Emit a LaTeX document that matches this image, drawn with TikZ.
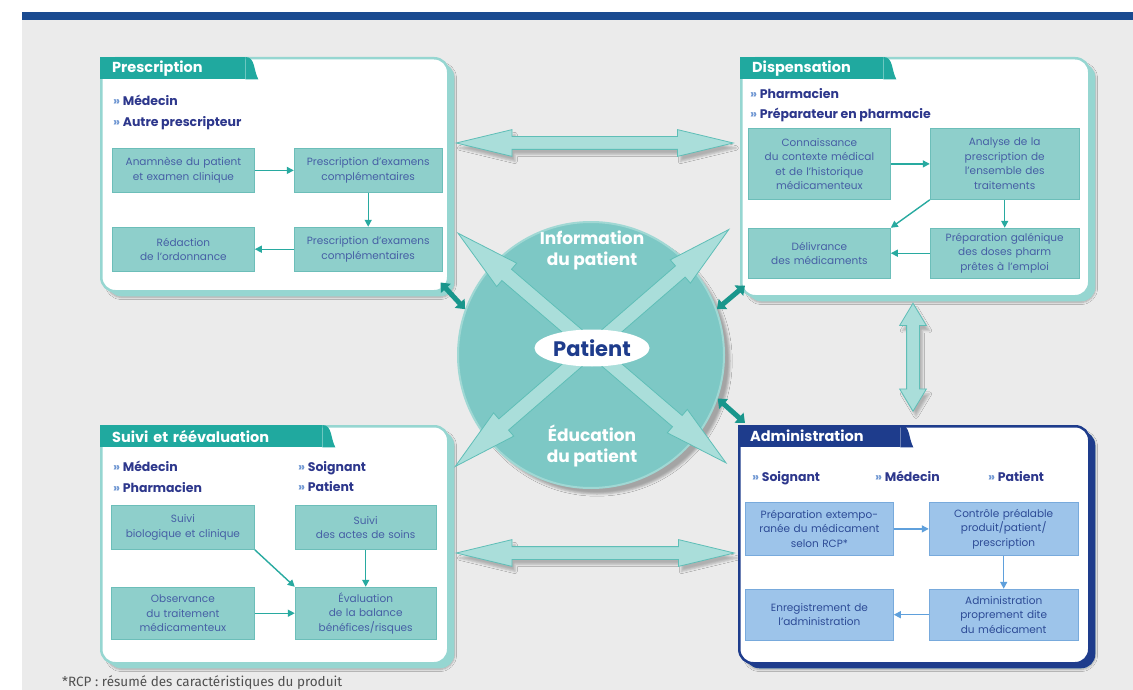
\documentclass[tikz,border=0pt]{standalone}
\usepackage{fontspec}
\setmainfont{Poppins}
\newfontfamily\notefont{Fira Sans}
\usetikzlibrary{shapes.geometric, shapes.arrows, arrows.meta, positioning, calc, shadows.blur}

\definecolor{bandblue}{RGB}{26,74,144}
\definecolor{bggray}{RGB}{235,235,235}
\definecolor{tabteal}{RGB}{32,169,159}
\definecolor{panelteal}{RGB}{150,214,209}
\definecolor{boxfill}{RGB}{142,207,203}
\definecolor{boxline}{RGB}{108,190,185}
\definecolor{boxtext}{RGB}{70,95,165}
\definecolor{bullettext}{RGB}{45,55,140}
\definecolor{bulletmark}{RGB}{110,150,210}
\definecolor{arrowteal}{RGB}{40,170,160}
\definecolor{adminblue}{RGB}{30,60,140}
\definecolor{adminfill}{RGB}{157,196,234}
\definecolor{adminline}{RGB}{120,170,220}
\definecolor{admintext}{RGB}{45,75,150}
\definecolor{adminarrowc}{RGB}{95,160,220}
\definecolor{discfill}{RGB}{125,200,197}
\definecolor{discrim}{RGB}{160,216,212}
\definecolor{bigfill}{RGB}{170,222,218}
\definecolor{bigline}{RGB}{95,190,183}
\definecolor{darkteal}{RGB}{25,150,140}
\definecolor{notegray}{RGB}{80,80,80}

\newcommand{\puce}{\textcolor{bulletmark}{»}\ }

\tikzstyle{panel} = [rectangle, rounded corners=14pt, anchor=north west, draw=panelteal, line width=2.5pt, fill=white, blur shadow={shadow xshift=6pt, shadow yshift=-6pt, shadow opacity=30, shadow blur steps=8}, general shadow={fill=panelteal, shadow yshift=-5pt}]
\tikzstyle{adminpanel} = [panel, draw=adminblue, general shadow={fill=adminblue, shadow yshift=-5pt}]
\tikzstyle{tabhead} = [rectangle, fill=tabteal, text=white, anchor=north west, minimum height=22pt, inner xsep=12pt, inner ysep=0pt, align=left, font=\bfseries\fontsize{14.5}{14.5}\selectfont]
\tikzstyle{bullets} = [anchor=north west, inner sep=0pt, align=left, text=bullettext, font=\bfseries\fontsize{12.5}{20.5}\selectfont]
\tikzstyle{stepbox} = [rectangle, draw=boxline, fill=boxfill, line width=0.8pt, text=boxtext, align=center, inner sep=2pt, minimum height=44pt, text width=138pt, font=\fontsize{10.5}{14.5}\selectfont]
\tikzstyle{adminbox} = [stepbox, draw=adminline, fill=adminfill, text=admintext]
\tikzstyle{arrow} = [draw=arrowteal, line width=1.4pt, -{Triangle[length=7pt,width=7pt]}]
\tikzstyle{adminarrow} = [arrow, draw=adminarrowc]
\tikzstyle{bigarrow} = [double arrow, draw=bigline, fill=bigfill, line width=0.8pt, inner sep=6pt, double arrow head extend=7pt, double arrow tip angle=27, blur shadow={shadow xshift=3pt, shadow yshift=-5pt, shadow opacity=25}]
\tikzstyle{crossarrow} = [double arrow, draw=bigline, fill=bigfill, line width=0.8pt, inner sep=7pt, double arrow head extend=8pt, double arrow tip angle=27]
\tikzstyle{linkarrow} = [draw=darkteal, line width=5pt, {Triangle[length=8pt,width=13pt]}-{Triangle[length=8pt,width=13pt]}]

\begin{document}
\begin{tikzpicture}[x=1pt, y=-1pt]
    \useasboundingbox (0,0) rectangle (1133,690);
    \fill[white] (0,0) rectangle (1133,690);
    \fill[bggray] (22,20) rectangle (1133,690);
    \fill[bandblue] (22,12) rectangle (1133,20);

    % panels
    \node (prescPanel) [panel, minimum width=347pt, minimum height=233pt] at (100,57) {};
    \node (dispPanel) [panel, minimum width=348pt, minimum height=238pt] at (740,57) {};
    \node (suiviPanel) [panel, minimum width=347pt, minimum height=237pt] at (100,425) {};
    \node (adminPanel) [adminpanel, minimum width=350pt, minimum height=237pt] at (738,425) {};

    \node (prescTab) [tabhead, text width=121pt] at (prescPanel.north west) {Prescription};
    \fill[tabteal] (prescTab.north east) to[out=0,in=120] ([xshift=13pt]prescTab.south east) -- (prescTab.south east) -- cycle;
    \node (dispTab) [tabhead, text width=119pt] at (dispPanel.north west) {Dispensation};
    \fill[tabteal] (dispTab.north east) to[out=0,in=120] ([xshift=13pt]dispTab.south east) -- (dispTab.south east) -- cycle;
    \node (suiviTab) [tabhead, text width=198pt] at (suiviPanel.north west) {Suivi et réévaluation};
    \fill[tabteal] (suiviTab.north east) to[out=0,in=120] ([xshift=13pt]suiviTab.south east) -- (suiviTab.south east) -- cycle;
    \node (adminTab) [tabhead, fill=adminblue, text width=138pt] at (adminPanel.north west) {Administration};
    \fill[adminblue] (adminTab.north east) to[out=0,in=120] ([xshift=13pt]adminTab.south east) -- (adminTab.south east) -- cycle;

    % who acts
    \node (prescWho) [bullets] at ([xshift=13pt,yshift=-38pt]prescPanel.north west) {\puce Médecin\\\puce Autre prescripteur};
    \node (dispWho) [bullets] at ([xshift=10pt,yshift=-31pt]dispPanel.north west) {\puce Pharmacien\\\puce Préparateur en pharmacie};
    \node (suiviWhoA) [bullets] at ([xshift=13pt,yshift=-36pt]suiviPanel.north west) {\puce Médecin\\\puce Pharmacien};
    \node (suiviWhoB) [bullets] at ([xshift=198pt,yshift=-36pt]suiviPanel.north west) {\puce Soignant\\\puce Patient};
    \node (adminWhoA) [bullets] at ([xshift=14pt,yshift=-46pt]adminPanel.north west) {\puce Soignant};
    \node (adminWhoB) [bullets] at ([xshift=137pt,yshift=-46pt]adminPanel.north west) {\puce Médecin};
    \node (adminWhoC) [bullets] at ([xshift=250pt,yshift=-46pt]adminPanel.north west) {\puce Patient};

    % prescription steps
    \node (anamnese) [stepbox, anchor=north west] at ([xshift=12pt,yshift=-91pt]prescPanel.north west) {Anamnèse du patient\\et examen clinique};
    \node (examensA) [stepbox, text width=144pt, right=39pt of anamnese] {Prescription d'examens\\complémentaires};
    \node (examensB) [stepbox, text width=144pt, below=34pt of examensA] {Prescription d'examens\\complémentaires};
    \node (redaction) [stepbox, left=39pt of examensB] {Rédaction\\de l'ordonnance};
    \draw [arrow] (anamnese) -- (examensA);
    \draw [arrow] (examensA) -- (examensB);
    \draw [arrow] (examensB) -- (redaction);

    % dispensation steps
    \node (contexte) [stepbox, minimum height=71pt, anchor=north west] at ([xshift=8pt,yshift=-71pt]dispPanel.north west) {Connaissance\\du contexte médical\\et de l'historique\\médicamenteux};
    \node (analyse) [stepbox, minimum height=71pt, text width=145pt, right=39pt of contexte] {Analyse de la\\prescription de\\l'ensemble des\\traitements};
    \node (galenique) [stepbox, minimum height=50pt, text width=145pt, below=28pt of analyse] {Préparation galénique\\des doses pharm\\prêtes à l'emploi};
    \node (delivrance) [stepbox, minimum height=50pt, left=39pt of galenique] {Délivrance\\des médicaments};
    \draw [arrow] (contexte) -- (analyse);
    \draw [arrow] (analyse.south west) -- (delivrance.north east);
    \draw [arrow] (analyse) -- (galenique);
    \draw [arrow] (galenique) -- (delivrance);

    % suivi steps
    \node (suiviBio) [stepbox, text width=139pt, anchor=north west] at ([xshift=11pt,yshift=-80pt]suiviPanel.north west) {Suivi\\biologique et clinique};
    \node (suiviSoins) [stepbox, text width=137pt, right=40pt of suiviBio] {Suivi\\des actes de soins};
    \node (evaluation) [stepbox, minimum height=52pt, text width=137pt, below=37pt of suiviSoins] {Évaluation\\de la balance\\bénéfices/risques};
    \node (observance) [stepbox, minimum height=52pt, text width=139pt, left=40pt of evaluation] {Observance\\du traitement\\médicamenteux};
    \draw [arrow] (suiviBio.south east) -- (evaluation.north west);
    \draw [arrow] (suiviSoins) -- (evaluation);
    \draw [arrow] (observance) -- (evaluation);

    % administration steps
    \node (extempo) [adminbox, minimum height=53pt, text width=144pt, anchor=north west] at ([xshift=7pt,yshift=-77pt]adminPanel.north west) {Préparation extempo-\\ranée du médicament\\selon RCP*};
    \node (controle) [adminbox, minimum height=53pt, text width=145pt, right=35pt of extempo] {Contrôle préalable\\produit/patient/\\prescription};
    \node (adminDite) [adminbox, minimum height=51pt, text width=145pt, below=33pt of controle] {Administration\\proprement dite\\du médicament};
    \node (enregistre) [adminbox, minimum height=51pt, text width=144pt, left=35pt of adminDite] {Enregistrement de\\l'administration};
    \draw [adminarrow] (extempo) -- (controle);
    \draw [adminarrow] (controle) -- (adminDite);
    \draw [adminarrow] (adminDite) -- (enregistre);

    % exchanges between panels
    \node (topLink) [bigarrow, minimum height=277pt] at ($(prescPanel.north east)!0.5!(dispPanel.north west) + (0,86)$) {};
    \node (bottomLink) [bigarrow, minimum height=278pt] at ($(suiviPanel.north east)!0.5!(adminPanel.north west) + (1.5,128)$) {};
    \node (sideLink) [bigarrow, double arrow tip angle=62, minimum height=108pt, rotate=90] at ($(dispPanel.south west)!0.5!(adminPanel.north west) + (174,-4)$) {};

    % patient
    \node (disc) [circle, minimum size=266pt, fill=discfill, draw=discrim, line width=2pt, blur shadow={shadow xshift=6pt, shadow yshift=-6pt, shadow opacity=30}] at (591,355) {};
    \coordinate (hub) at (592,348);
    \node (crossA) [crossarrow, minimum height=353pt, rotate=-40.6] at (hub) {};
    \node (crossB) [crossarrow, minimum height=362pt, rotate=40.9] at (hub) {};
    \node (patient) [ellipse, fill=white, minimum width=115pt, minimum height=37pt, inner sep=0pt, text=adminblue, font=\bfseries\fontsize{21}{21}\selectfont] at (hub) {Patient};
    \node (infoText) [text=white, align=center, font=\bfseries\fontsize{17}{21}\selectfont] at (592,250) {Information\\du patient};
    \node (educText) [text=white, align=center, font=\bfseries\fontsize{17}{21}\selectfont] at (592,446) {Éducation\\du patient};

    \draw [linkarrow] ([xshift=-9pt,yshift=10pt]prescPanel.south east) -- (disc.160);
    \draw [linkarrow] ([xshift=5pt,yshift=12pt]dispPanel.south west) -- (disc.20);
    \draw [linkarrow] (disc.-19) -- ([xshift=7pt,yshift=2pt]adminPanel.north west);

    \node (footnote) [anchor=west, inner sep=0pt, text=notegray, font=\notefont\fontsize{13.5}{13.5}\selectfont] at (62,683) {*RCP : résumé des caractéristiques du produit};
\end{tikzpicture}
\end{document}
